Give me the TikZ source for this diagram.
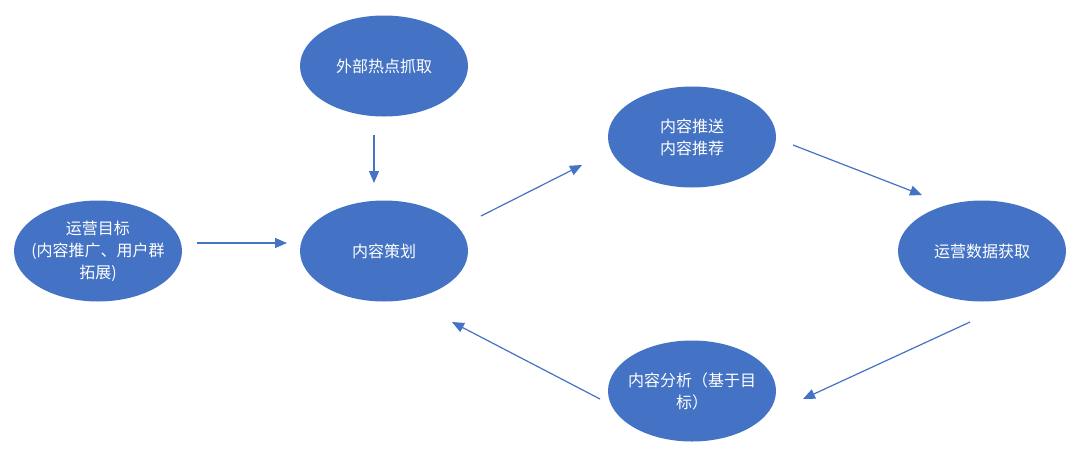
\documentclass[tikz,border=0pt]{standalone}
\usepackage{fontspec}
\setmainfont{Noto Sans CJK SC}
\usetikzlibrary{shapes.geometric,arrows.meta}
\definecolor{ob}{HTML}{4472C4}
\begin{document}
\begin{tikzpicture}[x=1pt,y=-1pt,
  bubble/.style={ellipse,fill=ob,minimum width=168pt,minimum height=101pt,inner sep=0pt,outer sep=0pt},
  txt/.style={text=white,align=center,inner sep=0pt,font=\fontsize{16}{22}\selectfont},
  conn/.style={draw=ob,line width=1.2pt,-{Triangle[length=12pt,width=10pt]}}]
\useasboundingbox[fill=white] (0,0) rectangle (1080,456);
\node[bubble,label={[txt]center:外部热点抓取}] (hot) at (384,66) {};
\node[bubble,label={[txt]center:{运营目标\\(内容推广、用户群\\拓展)}}] (goal) at (98,251) {};
\node[bubble,label={[txt]center:内容策划}] (plan) at (384,251) {};
\node[bubble,label={[txt]center:{内容推送\\内容推荐}}] (push) at (692,137) {};
\node[bubble,label={[txt]center:运营数据获取}] (data) at (982,251) {};
\node[bubble,label={[txt]center:{内容分析（基于目\\标）}}] (anal) at (692,391) {};
\draw[conn] ([shift={(-10,69)}]hot.center) -- ([shift={(-10,-68)}]plan.center);
\draw[conn] ([shift={(99,-8)}]goal.center) -- ([shift={(-97,-8)}]plan.center);
\draw[conn] ([shift={(97,-35)}]plan.center) -- ([shift={(-110,28)}]push.center);
\draw[conn] ([shift={(101,8)}]push.center) -- ([shift={(-60,-56)}]data.center);
\draw[conn] ([shift={(-12,71)}]data.center) -- ([shift={(111,8)}]anal.center);
\draw[conn] ([shift={(-92,8)}]anal.center) -- ([shift={(68,71)}]plan.center);
\end{tikzpicture}
\end{document}
